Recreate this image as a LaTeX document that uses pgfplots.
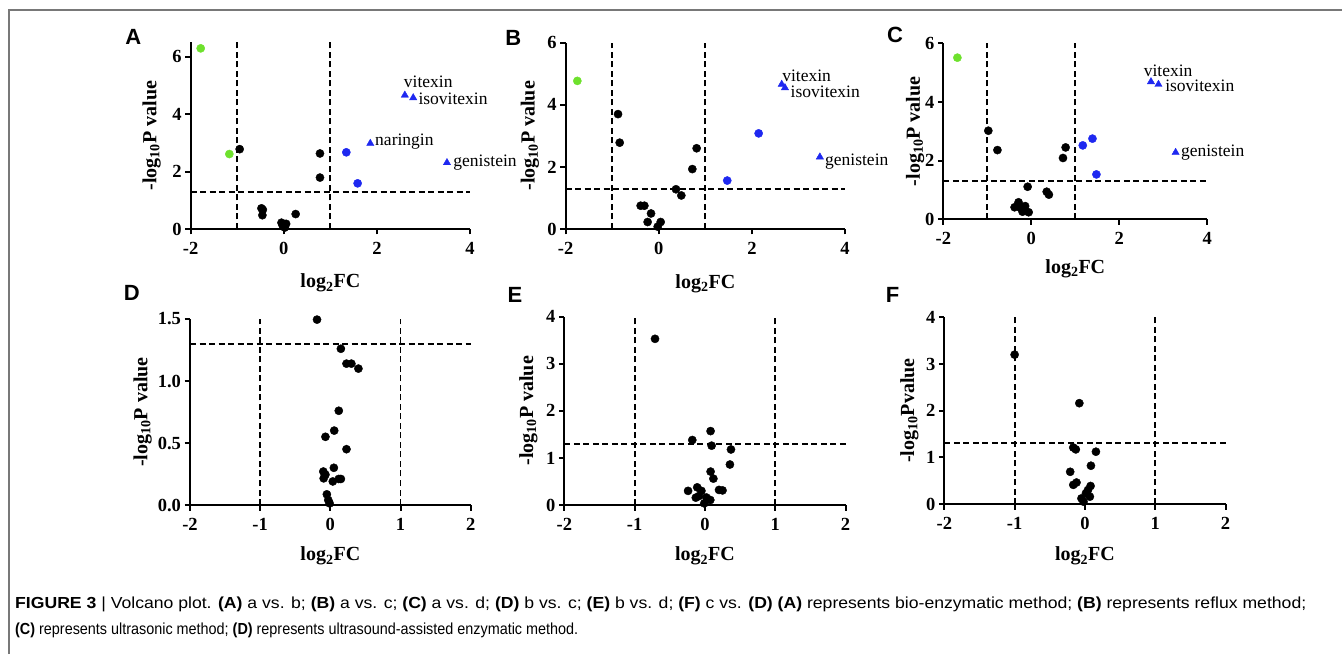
\documentclass[border=0pt]{standalone}
\usepackage{pgfplots}
\pgfplotsset{compat=1.18}
\usepackage{fontspec}
\setmainfont{Liberation Serif}
\newfontfamily\sansf{Liberation Sans}
\usepackage{graphicx}

\definecolor{vgreen}{RGB}{110,225,45}
\definecolor{vblue}{RGB}{30,40,240}
\definecolor{framegray}{RGB}{120,120,120}

\tikzset{ann/.style={font=\fontsize{17.5}{20}\selectfont, inner sep=0pt}}
\pgfplotsset{
  volc/.style={
    scale only axis, axis lines=left, axis line style={-,line width=2.2pt},
    enlargelimits=false, clip=false,
    tick align=outside, major tick length=5.5pt, tick style={line width=2pt,black},
    ticklabel style={font=\fontsize{18.5}{20}\selectfont\bfseries},
    xticklabel style={yshift=-4pt},
    label style={font=\fontsize{20}{24}\selectfont\bfseries},
    xlabel={log\textsubscript{2}FC},
    ylabel={-log\textsubscript{10}P value},
    anchor=south west,
  },
  bl/.style={only marks, mark=*, mark size=4.1pt, black},
  gr/.style={only marks, mark=*, mark size=4.1pt, color=vgreen},
  bc/.style={only marks, mark=*, mark size=4.1pt, color=vblue},
  bt/.style={only marks, mark=triangle*, mark size=4.2pt, color=vblue},
  thr/.style={black, dash pattern=on 6pt off 3.5pt, line width=1.8pt, no marks, forget plot},
}

\begin{document}
\begin{tikzpicture}
\useasboundingbox (0pt,0pt) rectangle (1342pt,654pt);
\draw[framegray, line width=1.5pt] (9pt,0pt) -- (9pt,644pt) -- (1342pt,644pt);

% ---------- A ----------
\begin{axis}[volc, at={(190.7pt,425pt)}, width=279.3pt, height=186.7pt,
  xmin=-2, xmax=4, ymin=0, ymax=6.5,
  xtick={-2,0,2,4}, xticklabels={-2,0,2,4},
  ytick={0,2,4,6}, yticklabels={0,2,4,6},
  xlabel style={at={(axis description cs:0.5,-0.316)},anchor=base},
  ylabel style={at={(axis description cs:-0.140,0.5)},anchor=center}]
\addplot[thr] coordinates {(-1,0) (-1,6.5)};
\addplot[thr] coordinates {(1,0) (1,6.5)};
\addplot[thr] coordinates {(-2,1.3) (4,1.3)};
\addplot[bl] coordinates {(-0.948,2.78) (0.777,2.63) (0.777,1.79) (-0.48,0.72) (-0.45,0.67) (-0.46,0.48) (0.255,0.52) (-0.05,0.22) (0.05,0.18) (-0.02,0.1) (0.02,0.05) (0.0,0.15)};
\addplot[gr] coordinates {(-1.785,6.29) (-1.17,2.61)};
\addplot[bc] coordinates {(1.343,2.67) (1.586,1.59)};
\addplot[bt] coordinates {(2.60,4.66) (2.78,4.57) (1.858,2.98) (3.505,2.31)};
\node[ann] at (axis cs:3.104,5.12) {vitexin};
\node[ann,anchor=west] at (axis cs:2.89,4.55) {isovitexin};
\node[ann,anchor=west] at (axis cs:1.96,3.04) {naringin};
\node[ann,anchor=west] at (axis cs:3.64,2.31) {genistein};
\end{axis}

% ---------- B ----------
\begin{axis}[volc, at={(565.7pt,425pt)}, width=279.3pt, height=186.3pt,
  xmin=-2, xmax=4, ymin=0, ymax=6,
  xtick={-2,0,2,4}, xticklabels={-2,0,2,4},
  ytick={0,2,4,6}, yticklabels={0,2,4,6},
  xlabel style={at={(axis description cs:0.5,-0.317)},anchor=base},
  ylabel style={at={(axis description cs:-0.128,0.5)},anchor=center}]
\addplot[thr] coordinates {(-1,0) (-1,6)};
\addplot[thr] coordinates {(1,0) (1,6)};
\addplot[thr] coordinates {(-2,1.3) (4,1.3)};
\addplot[bl] coordinates {(-0.876,3.70) (-0.84,2.78) (0.813,2.60) (0.72,1.93) (0.369,1.28) (0.484,1.08) (-0.39,0.75) (-0.31,0.75) (-0.167,0.50) (-0.24,0.225) (0.04,0.225) (-0.024,0.075)};
\addplot[gr] coordinates {(-1.75,4.77)};
\addplot[bc] coordinates {(2.145,3.08) (1.47,1.56)};
\addplot[bt] coordinates {(2.64,4.66) (2.71,4.55) (3.46,2.32)};
\node[ann] at (axis cs:3.175,4.92) {vitexin};
\node[ann,anchor=west] at (axis cs:2.83,4.42) {isovitexin};
\node[ann,anchor=west] at (axis cs:3.57,2.17) {genistein};
\end{axis}

% ---------- C ----------
\begin{axis}[volc, at={(943.3pt,434.7pt)}, width=264pt, height=176pt,
  xmin=-2, xmax=4, ymin=0, ymax=6,
  xtick={-2,0,2,4}, xticklabels={-2,0,2,4},
  ytick={0,2,4,6}, yticklabels={0,2,4,6},
  xlabel style={at={(axis description cs:0.5,-0.307)},anchor=base},
  ylabel style={at={(axis description cs:-0.107,0.5)},anchor=center}]
\addplot[thr] coordinates {(-1,0) (-1,6)};
\addplot[thr] coordinates {(1,0) (1,6)};
\addplot[thr] coordinates {(-2,1.3) (4,1.3)};
\addplot[bl] coordinates {(-0.977,3.02) (-0.77,2.36) (0.78,2.45) (0.72,2.09) (-0.083,1.11) (0.35,0.94) (0.40,0.84) (-0.29,0.58) (-0.38,0.41) (-0.14,0.45) (-0.2,0.26) (-0.06,0.24) (-0.25,0.40)};
\addplot[gr] coordinates {(-1.68,5.51)};
\addplot[bc] coordinates {(1.17,2.52) (1.39,2.75) (1.48,1.53)};
\addplot[bt] coordinates {(2.72,4.69) (2.89,4.60) (3.28,2.28)};
\node[ann] at (axis cs:3.11,5.07) {vitexin};
\node[ann,anchor=west] at (axis cs:3.04,4.56) {isovitexin};
\node[ann,anchor=west] at (axis cs:3.40,2.28) {genistein};
\end{axis}

% ---------- D ----------
\begin{axis}[volc, at={(190pt,149pt)}, width=280.7pt, height=186pt,
  xmin=-2, xmax=2, ymin=0, ymax=1.5,
  xtick={-2,-1,0,1,2}, xticklabels={-2,-1,0,1,2},
  ytick={0,0.5,1,1.5}, yticklabels={0.0,0.5,1.0,1.5},
  xlabel style={at={(axis description cs:0.5,-0.301)},anchor=base},
  ylabel style={at={(axis description cs:-0.169,0.5)},anchor=center}]
\addplot[thr] coordinates {(-1,0) (-1,1.5)};
\addplot[thr] coordinates {(1,0) (1,1.5)};
\addplot[thr] coordinates {(-2,1.3) (2,1.3)};
\addplot[bl] coordinates {(-0.19,1.495) (0.15,1.26) (0.23,1.14) (0.30,1.14) (0.40,1.10) (0.12,0.76) (0.055,0.60) (-0.07,0.55) (0.23,0.45) (-0.1,0.27) (-0.07,0.245) (-0.095,0.215) (0.05,0.30) (0.035,0.19) (0.12,0.21) (0.15,0.21) (-0.05,0.086) (-0.03,0.04) (-0.01,0.013)};
\end{axis}

% ---------- E ----------
\begin{axis}[volc, at={(564.3pt,149pt)}, width=281.3pt, height=188.3pt,
  xmin=-2, xmax=2, ymin=0, ymax=4,
  xtick={-2,-1,0,1,2}, xticklabels={-2,-1,0,1,2},
  ytick={0,1,2,3,4}, yticklabels={0,1,2,3,4},
  xlabel style={at={(axis description cs:0.5,-0.297)},anchor=base},
  ylabel style={at={(axis description cs:-0.128,0.5)},anchor=center}]
\addplot[thr] coordinates {(-1,0) (-1,4)};
\addplot[thr] coordinates {(1,0) (1,4)};
\addplot[thr] coordinates {(-2,1.3) (2,1.3)};
\addplot[bl] coordinates {(-0.71,3.53) (0.08,1.57) (-0.18,1.38) (0.095,1.26) (0.37,1.18) (0.355,0.86) (0.08,0.71) (0.12,0.56) (-0.24,0.30) (-0.11,0.375) (-0.05,0.30) (-0.13,0.156) (-0.085,0.19) (0.02,0.16) (0.076,0.106) (-0.01,0.035) (0.2,0.32) (0.25,0.31)};
\end{axis}

% ---------- F ----------
\begin{axis}[volc, at={(944.3pt,150pt)}, width=281.3pt, height=186.7pt,
  xmin=-2, xmax=2, ymin=0, ymax=4,
  xtick={-2,-1,0,1,2}, xticklabels={-2,-1,0,1,2},
  ytick={0,1,2,3,4}, yticklabels={0,1,2,3,4},
  ylabel={-log\textsubscript{10}Pvalue},
  xlabel style={at={(axis description cs:0.5,-0.305)},anchor=base},
  ylabel style={at={(axis description cs:-0.124,0.5)},anchor=center}]
\addplot[thr] coordinates {(-1,0) (-1,4)};
\addplot[thr] coordinates {(1,0) (1,4)};
\addplot[thr] coordinates {(-2,1.3) (2,1.3)};
\addplot[bl] coordinates {(-1.0,3.2) (-0.08,2.16) (-0.166,1.21) (-0.13,1.17) (0.156,1.12) (0.085,0.82) (-0.21,0.69) (-0.166,0.41) (-0.12,0.46) (0.08,0.386) (0.043,0.3) (0.014,0.23) (0.07,0.157) (-0.05,0.12) (-0.02,0.05)};
\end{axis}

% panel letters
\begin{scope}[every node/.style={font=\sansf\bfseries\fontsize{22}{24}\selectfont, inner sep=0pt}]
\node at (133.3pt,616.7pt) {A};
\node at (513.3pt,615.7pt) {B};
\node at (895pt,619pt) {C};
\node at (131.7pt,360.7pt) {D};
\node at (515pt,359pt) {E};
\node at (892.7pt,359pt) {F};
\end{scope}

% caption
\node[anchor=base west, inner sep=0pt] at (15pt,46pt) {\resizebox{1291pt}{\height}{\sansf\fontsize{16}{18}\selectfont\textbf{FIGURE 3} | Volcano plot. \textbf{(A)} a vs. b; \textbf{(B)} a vs. c; \textbf{(C)} a vs. d; \textbf{(D)} b vs. c; \textbf{(E)} b vs. d; \textbf{(F)} c vs. \textbf{(D)} \textbf{(A)} represents bio-enzymatic method; \textbf{(B)} represents reflux method;}};
\node[anchor=base west, inner sep=0pt] at (15pt,20pt) {\resizebox{563pt}{\height}{\sansf\fontsize{16}{18}\selectfont\textbf{(C)} represents ultrasonic method; \textbf{(D)} represents ultrasound-assisted enzymatic method.}};
\end{tikzpicture}
\end{document}
